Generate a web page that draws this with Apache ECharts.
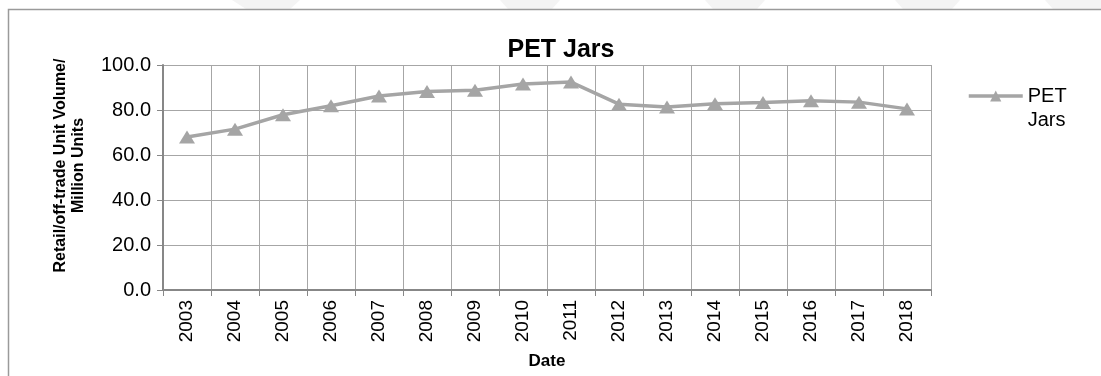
<!DOCTYPE html>
<html>
<head>
<meta charset="utf-8">
<script src="https://cdn.jsdelivr.net/npm/echarts@6/dist/echarts.min.js"></script>
<style>
  html, body { margin: 0; padding: 0; background: #ffffff; }
  #chart { width: 1101px; height: 376px; }
</style>
</head>
<body>
<div id="chart"></div>
<script>
// Retail/off-trade unit volume of PET jars, million units
const years = ['2003', '2004', '2005', '2006', '2007', '2008', '2009', '2010',
               '2011', '2012', '2013', '2014', '2015', '2016', '2017', '2018'];
const petJars = [68.0, 71.5, 77.9, 81.9, 86.2, 88.2, 88.8, 91.6,
                 92.4, 82.6, 81.3, 82.8, 83.3, 84.1, 83.5, 80.5];
const yTicks = { min: 0, max: 100, interval: 20 };

const FONT = '"Liberation Sans", Arial, sans-serif';
const SERIES_GRAY = '#a5a5a5';
const GRID_GRAY = '#a6a6a6';
const AXIS_GRAY = '#878787';

const chart = echarts.init(document.getElementById('chart'), null, { renderer: 'canvas' });

chart.setOption({
  animation: false,
  backgroundColor: '#ffffff',
  textStyle: { fontFamily: FONT },
  title: {
    text: 'PET Jars',
    left: 556,
    textAlign: 'center',
    top: 33,
    textStyle: { fontFamily: FONT, fontSize: 25, fontWeight: 'bold', color: '#000000' }
  },
  legend: {
    left: 967,
    top: 60,
    padding: 0,
    itemWidth: 54,
    itemHeight: 14,
    itemGap: 0,
    // empty first line keeps the icon level with the first word
    formatter: name => '\n' + name.replace(' ', '\n'),
    textStyle: { fontFamily: FONT, fontSize: 20, color: '#000000', lineHeight: 24 },
    lineStyle: { width: 3.5, color: SERIES_GRAY },
    data: ['PET Jars']
  },
  grid: { left: 163, right: 170, top: 65, bottom: 86, containLabel: false },
  xAxis: {
    type: 'category',
    data: years,
    boundaryGap: true,
    name: 'Date',
    nameLocation: 'middle',
    nameGap: 63,
    nameTextStyle: { fontFamily: FONT, fontSize: 17, fontWeight: 'bold', color: '#000000' },
    axisLine: { lineStyle: { color: AXIS_GRAY, width: 2 } },
    axisTick: { show: true, length: 6, lineStyle: { color: AXIS_GRAY, width: 1 } },
    axisLabel: {
      rotate: 90, margin: 10, fontFamily: FONT, fontSize: 19, color: '#000000'
    },
    splitLine: { show: true, showMinLine: false, showMaxLine: true, lineStyle: { color: GRID_GRAY, width: 1 } }
  },
  yAxis: {
    type: 'value',
    min: yTicks.min,
    max: yTicks.max,
    interval: yTicks.interval,
    name: 'Retail/off-trade Unit Volume/\nMillion Units',
    nameLocation: 'middle',
    nameGap: 75,
    nameTextStyle: {
      fontFamily: FONT, fontSize: 16, fontWeight: 'bold', color: '#000000',
      lineHeight: 18, align: 'center', padding: [0, 0, 0, 24]
    },
    axisLine: { show: true, lineStyle: { color: AXIS_GRAY, width: 2 } },
    axisTick: { show: true, length: 6, lineStyle: { color: AXIS_GRAY, width: 1 } },
    axisLabel: {
      margin: 12, fontFamily: FONT, fontSize: 20, color: '#000000',
      formatter: v => v.toFixed(1)
    },
    splitLine: { show: true, lineStyle: { color: GRID_GRAY, width: 1 } }
  },
  series: [{
    name: 'PET Jars',
    type: 'line',
    data: petJars,
    symbol: 'triangle',
    symbolSize: [16, 13],
    lineStyle: { color: SERIES_GRAY, width: 3.5 },
    itemStyle: { color: SERIES_GRAY },
    z: 3
  }],
  graphic: [
    // faint watermark shapes along the top edge
    { type: 'polygon', silent: true, z: -10, shape: { points: [[232, 0], [300, 0], [290, 9], [246, 9]] }, style: { fill: '#f4f4f4' } },
    { type: 'polygon', silent: true, z: -10, shape: { points: [[500, 0], [560, 0], [552, 9], [508, 9]] }, style: { fill: '#f4f4f4' } },
    { type: 'polygon', silent: true, z: -10, shape: { points: [[705, 0], [765, 0], [757, 9], [713, 9]] }, style: { fill: '#f4f4f4' } },
    { type: 'polygon', silent: true, z: -10, shape: { points: [[895, 0], [960, 0], [952, 9], [903, 9]] }, style: { fill: '#f4f4f4' } },
    { type: 'polygon', silent: true, z: -10, shape: { points: [[1045, 0], [1101, 0], [1101, 9], [1053, 9]] }, style: { fill: '#f4f4f4' } },
    // chart frame
    {
      type: 'rect', silent: true, z: -5,
      shape: { x: 8.5, y: 9.5, width: 1200, height: 500 },
      style: { fill: 'none', stroke: '#9a9a9a', lineWidth: 1.5 }
    }
  ]
});
</script>
</body>
</html>
